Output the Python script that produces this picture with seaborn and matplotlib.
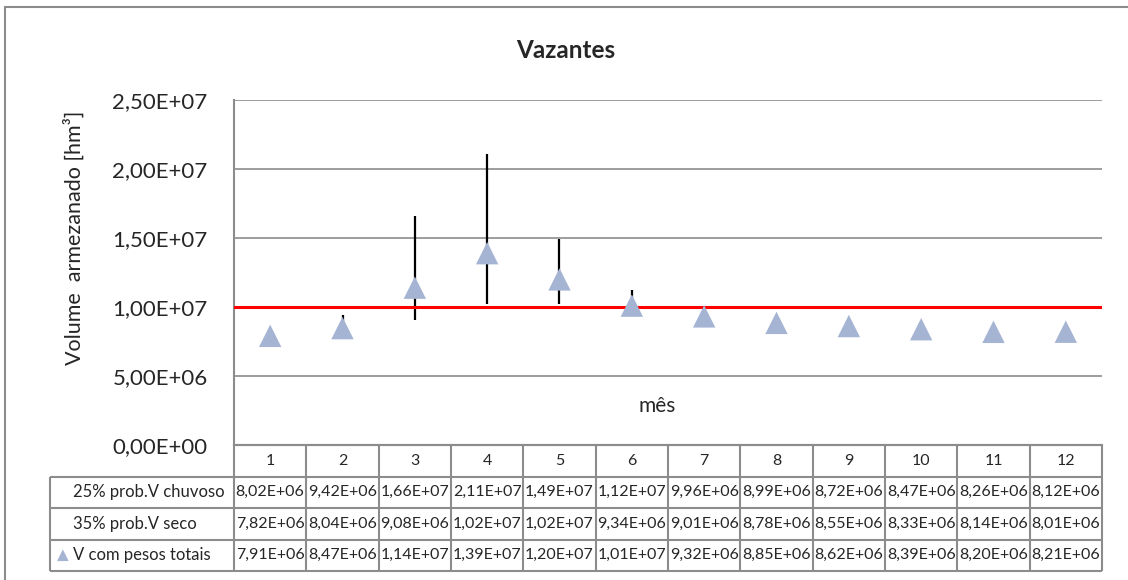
import numpy as np
import pandas as pd
import matplotlib
matplotlib.use("Agg")
import matplotlib.pyplot as plt
from matplotlib.ticker import FuncFormatter
from matplotlib.patches import Rectangle
import seaborn as sns

months = list(range(1, 13))
v_chuvoso = [8.02e6, 9.42e6, 1.66e7, 2.11e7, 1.49e7, 1.12e7, 9.96e6, 8.99e6, 8.72e6, 8.47e6, 8.26e6, 8.12e6]
v_seco = [7.82e6, 8.04e6, 9.08e6, 1.02e7, 1.02e7, 9.34e6, 9.01e6, 8.78e6, 8.55e6, 8.33e6, 8.14e6, 8.01e6]
v_total = [7.91e6, 8.47e6, 1.14e7, 1.39e7, 1.20e7, 1.01e7, 9.32e6, 8.85e6, 8.62e6, 8.39e6, 8.20e6, 8.21e6]
v_ref = 1.0e7
row_labels = ['25% prob.V chuvoso', '35% prob.V seco', 'V com pesos totais']

df = pd.DataFrame({'mes': months, 'V': v_total, 'lo': v_seco, 'hi': v_chuvoso})

sns.set_style('white')
plt.rcParams['font.family'] = ['Lato', 'DejaVu Sans']

W, H = 1128, 580
fig = plt.figure(figsize=(W / 100, H / 100), dpi=100)

def px_axes(x0, y0, x1, y1):
    # pixel box (top-left origin) -> figure fraction
    return [x0 / W, 1 - y1 / H, (x1 - x0) / W, (y1 - y0) / H]

grey = '#8c8c8c'
tri_color = '#a5b4d3'

# outer chart frame (cropped at right / bottom in the original)
fig.patches.append(Rectangle((5 / W, -0.1), 1.2, 1 - 7 / H + 0.1, transform=fig.transFigure,
                             fill=False, edgecolor=grey, lw=1.5))

ax = fig.add_axes(px_axes(234, 100, 1102, 445))
ax.vlines(df['mes'], df['lo'], df['hi'], color='black', lw=1.6, zorder=3)
ax.axhline(v_ref, color='#ff0000', lw=2.2, zorder=4)
sns.scatterplot(data=df, x='mes', y='V', marker='^', s=260, color=tri_color,
                edgecolor='none', ax=ax, zorder=5, legend=False)

ax.set_xlim(0.5, 12.5)
ax.set_ylim(0, 2.5e7)
ax.set_yticks(np.arange(0, 2.5e7 + 1, 5e6))
ax.yaxis.set_major_formatter(FuncFormatter(lambda v, p: f'{v:.2E}'.replace('.', ',')))
ax.set_xticks([])
ax.tick_params(axis='y', length=0, labelsize=16, pad=19)
ax.grid(axis='y', color=grey, lw=1.2)
for s in ['top', 'right']:
    ax.spines[s].set_visible(False)
ax.spines['left'].set_color(grey)
ax.spines['left'].set_linewidth(1.5)
ax.spines['bottom'].set_color(grey)
ax.spines['bottom'].set_linewidth(1.5)
ax.set_xlabel('')
ax.set_ylabel('Volume  armezanado [hm³]', fontsize=15.5)
ax.yaxis.set_label_coords(-0.172, 0.6)
ax.text(6.35, 0.113, 'mês', transform=ax.get_xaxis_transform(), ha='center', va='center', fontsize=15)
fig.text(566 / W, 1 - 50 / H, 'Vazantes', ha='center', va='center', fontsize=17.5, fontweight='bold')

# data table below the plot
lab_w = 184 / (1102 - 234) * 12  # width of label column in month units
tax = fig.add_axes(px_axes(50, 445, 1102, 571))
tax.set_xlim(0.5 - lab_w, 12.5)
tax.set_ylim(4, 0)
tax.axis('off')
lc = dict(color=grey, lw=1.5, clip_on=False)
# header row (months)
tax.hlines(0, 0.5, 12.5, **lc)
for m in months:
    tax.text(m, 0.5, str(m), ha='center', va='center', fontsize=11.5)
for i in range(13):
    tax.vlines(0.5 + i, 0, 4, **lc)
tax.vlines(0.5 - lab_w, 1, 4, **lc)
for r in range(1, 5):
    tax.hlines(r, 0.5 - lab_w, 12.5, **lc)
label_x = 0.5 - lab_w + 23 / 72.33
for r, (lab, vals) in enumerate(zip(row_labels, [v_chuvoso, v_seco, v_total])):
    y = r + 1.5
    tax.text(label_x, y, lab, ha='left', va='center', fontsize=12)
    for m, v in zip(months, vals):
        tax.text(m, y, f'{v:.2E}'.replace('.', ','), ha='center', va='center', fontsize=11.5)
tax.scatter([label_x - 0.14], [3.5], marker='^', s=70, color=tri_color, edgecolor='none', clip_on=False)

fig.savefig('out.png', dpi=100)
